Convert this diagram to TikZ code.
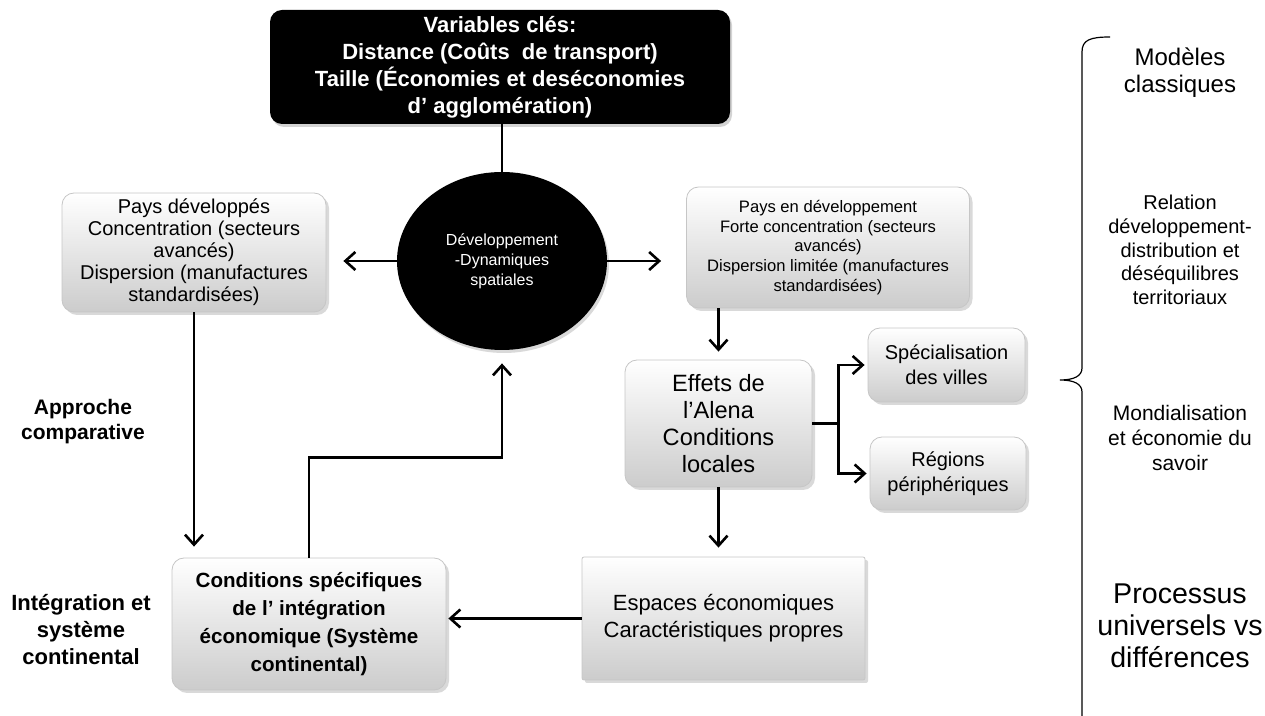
\documentclass[tikz,border=0pt]{standalone}
\usepackage{fontspec}
\setmainfont{Liberation Sans}
\usetikzlibrary{shapes.geometric,shadows,arrows.meta}

\tikzset{
  darkbox/.style={fill=black,text=white,rounded corners=6pt,align=center,inner sep=0pt,
    drop shadow={shadow xshift=1pt,shadow yshift=-1.5pt,opacity=0.35}},
  darkdisc/.style={ellipse,fill=black,text=white,align=center,inner sep=0pt,
    drop shadow={shadow xshift=1pt,shadow yshift=-1.5pt,opacity=0.3}},
  greybox/.style={draw=gray!45,line width=0.4pt,top color=white,bottom color=gray!40,
    rounded corners=6pt,align=center,inner sep=0pt,
    drop shadow={shadow xshift=1.5pt,shadow yshift=-1.5pt,opacity=0.3}},
  flatbox/.style={greybox,rounded corners=1pt},
  sidenote/.style={align=center,inner sep=0pt},
  link/.style={->,line width=1.3pt},
}

\begin{document}
\begin{tikzpicture}[x=0.5pt,y=-0.5pt,>={Straight Barb[length=5pt,width=9pt]}]
      \useasboundingbox (0,0) rectangle (1265,716);
      \node[darkbox,minimum width=230pt,minimum height=57pt,font=\bfseries\fontsize{11}{13.5}\selectfont] (1) at (500,67)
        {Variables clés:\\Distance (Coûts~ de transport)\\Taille (Économies et deséconomies\\d’ agglomération)};
      \node[darkdisc,minimum width=105pt,minimum height=89pt,font=\fontsize{8}{10}\selectfont] (2) at (502,261)
        {Développement\\-Dynamiques\\spatiales};
      \node[greybox,minimum width=132pt,minimum height=59.5pt,font=\fontsize{10}{11}\selectfont] (3) at (194,252.5)
        {Pays développés\\Concentration (secteurs\\avancés)\\Dispersion (manufactures\\standardisées)};
      \node[greybox,minimum width=141.5pt,minimum height=60.5pt,font=\fontsize{8.3}{9.8}\selectfont] (4) at (828,247.5)
        {Pays en développement\\Forte concentration (secteurs\\avancés)\\Dispersion limitée (manufactures\\standardisées)};
      \node[greybox,minimum width=93.5pt,minimum height=63.5pt,font=\fontsize{11.8}{13.5}\selectfont] (5) at (718.5,423.5)
        {Effets de\\l’Alena\\Conditions\\locales};
      \node[greybox,minimum width=78.5pt,minimum height=37pt,font=\fontsize{10}{12.5}\selectfont] (6) at (946.5,365)
        {Spécialisation\\des villes};
      \node[greybox,minimum width=78pt,minimum height=36.5pt,font=\fontsize{10}{12.5}\selectfont] (7) at (948,473.5)
        {Régions\\périphériques};
      \node[flatbox,minimum width=141.5pt,minimum height=61.5pt,font=\fontsize{11}{13.5}\selectfont] (8) at (723.5,618.5)
        {Espaces économiques\\Caractéristiques propres};
      \node[greybox,minimum width=137pt,minimum height=66pt,font=\bfseries\fontsize{10.3}{14}\selectfont] (9) at (309,624)
        {Conditions spécifiques\\de l’ intégration\\économique (Système\\continental)};
      %% Side labels
      \node[sidenote,font=\bfseries\fontsize{10.5}{12.5}\selectfont] (10) at (83,422) {Approche\\comparative};
      \node[sidenote,font=\bfseries\fontsize{11}{13.5}\selectfont] (11) at (81,630) {Intégration et\\système\\continental};
      \node[sidenote,font=\fontsize{12}{13.5}\selectfont] (12) at (1180,73) {Modèles\\classiques};
      \node[sidenote,font=\fontsize{10}{11.8}\selectfont] (13) at (1180,250)
        {Relation\\développement-\\distribution et\\déséquilibres\\territoriaux};
      \node[sidenote,font=\fontsize{10.5}{12.5}\selectfont] (14) at (1180,438) {Mondialisation\\et économie du\\savoir};
      \node[sidenote,font=\fontsize{14.3}{16}\selectfont] (15) at (1180,626) {Processus\\universels vs\\différences};
      %% Brace
      \draw[line width=0.6pt] (1110,37) .. controls (1090,37) and (1082,40) .. (1082,52) -- (1082,368)
        .. controls (1082,376) and (1074,380) .. (1060,380) .. controls (1074,380) and (1082,384) .. (1082,392) -- (1082,716);
      %% Around the centre
      \draw[line width=1.3pt] (1.south -| 2.north) -- (2.north);
      \draw[link,shorten >=8.5pt] (2.west) -- (2.west -| 3.east);
      \draw[link,shorten >=12.5pt] (2.east) -- (2.east -| 4.west);
      %% Right column
      \draw[link,shorten >=4pt] (4.south -| 5.north) -- (5.north);
      \draw[link,shorten >=4.5pt] (5.south) -- (5.south |- 8.north);
      \draw[link,shorten >=1.5pt] (5.east) -- ++(26,0) |- (6.west);
      \draw[link,shorten >=1.5pt] (5.east) -- ++(26,0) |- (7.west);
      %% Back to the left
      \draw[link,shorten >=1pt] (8.west) -- (8.west -| 9.east);
      \draw[link,shorten >=5.5pt] (3.south) -- (3.south |- 9.north);
      \draw[link,shorten >=6.5pt] (9.north) -- ++(0,-100) -| (2.south);
\end{tikzpicture}
\end{document}
